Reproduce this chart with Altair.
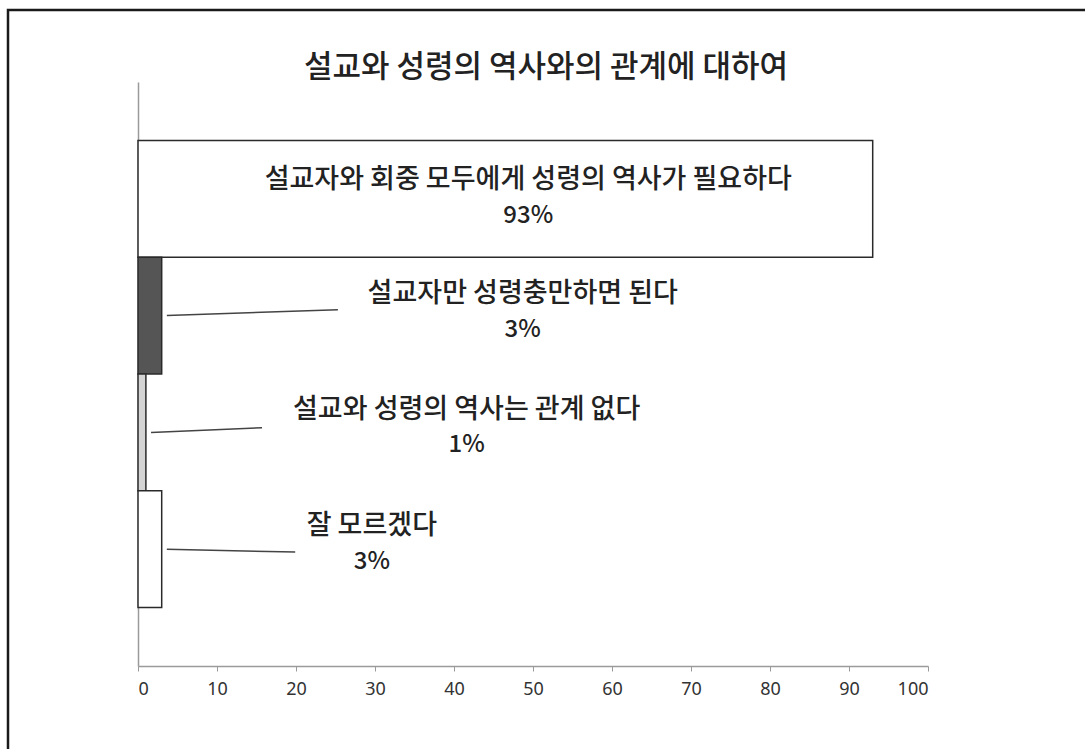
import altair as alt
import pandas as pd

# ---- data ----
title_text = "설교와 성령의 역사와의 관계에 대하여"
categories = [
    "설교자와 회중 모두에게 성령의 역사가 필요하다",
    "설교자만 성령충만하면 된다",
    "설교와 성령의 역사는 관계 없다",
    "잘 모르겠다",
]
values = [93, 3, 1, 3]
x_ticks = [0, 10, 20, 30, 40, 50, 60, 70, 80, 90, 100]

# ---- styling / layout (kept apart from data) ----
fills = ["#ffffff", "#555555", "#d4d4d4", "#ffffff"]
label_x = [49.4, 48.7, 41.6, 29.6]           # label centre along value axis
name_dy = [0.343, 0.318, 0.308, 0.303]       # category line (row units from row top)
pct_dy = [0.645, 0.620, 0.610, 0.607]        # percent line
leader_end_x = [None, 25.3, 15.7, 19.9]
leader_end_dy = [None, -0.05, -0.04, 0.025]
FONT = "Noto Sans CJK KR"

rows = []
for i, (c, v) in enumerate(zip(categories, values)):
    rows.append({
        "cat": c,
        "value": v,
        "pct": f"{v}%",
        "pos0": i,
        "pos1": i + 1,
        "fill": fills[i],
        "lx": label_x[i],
        "ny": i + name_dy[i],
        "py": i + pct_dy[i],
        "has_leader": leader_end_x[i] is not None,
        "sx": v + 0.65,
        "sy": i + 0.5,
        "ex": leader_end_x[i] if leader_end_x[i] is not None else 0,
        "ey": i + 0.5 + (leader_end_dy[i] or 0),
    })
df = pd.DataFrame(rows)

W, H = 790, 584
xscale = alt.Scale(domain=[0, 100], nice=False)
yscale = alt.Scale(domain=[-0.5, 4.5], reverse=True, nice=False, zero=False)

base = alt.Chart(df)

bars = base.mark_rect(stroke="#2a2a2a", strokeWidth=1.5).encode(
    x=alt.X("value:Q", scale=xscale, title=None,
            axis=alt.Axis(values=x_ticks, grid=False, domainColor="#9a9a9a",
                          domainWidth=1.5, tickColor="#9a9a9a", tickSize=5,
                          labelFont="Noto Sans", labelFontSize=18,
                          labelColor="#333333", labelPadding=9)),
    x2=alt.value(0),
    y=alt.Y("pos0:Q", scale=yscale, title=None,
            axis=alt.Axis(labels=False, ticks=False, grid=False,
                          domainColor="#9a9a9a", domainWidth=1.5)),
    y2="pos1:Q",
    fill=alt.Fill("fill:N", scale=None),
)

leaders = base.transform_filter("datum.has_leader").mark_rule(
    color="#444444", strokeWidth=1.5
).encode(
    x=alt.X("sx:Q", scale=xscale),
    x2="ex:Q",
    y=alt.Y("sy:Q", scale=yscale),
    y2="ey:Q",
)

names = base.mark_text(
    font=FONT, fontSize=27, fontWeight=500, color="#222222",
    align="center", baseline="middle"
).encode(
    x=alt.X("lx:Q", scale=xscale),
    y=alt.Y("ny:Q", scale=yscale),
    text="cat:N",
)

pcts = base.mark_text(
    font=FONT, fontSize=24, fontWeight=500, color="#222222",
    align="center", baseline="middle"
).encode(
    x=alt.X("lx:Q", scale=xscale),
    y=alt.Y("py:Q", scale=yscale),
    text="pct:N",
)

title_df = pd.DataFrame({"t": [title_text]})
title = alt.Chart(title_df).mark_text(
    font=FONT, fontSize=31, fontWeight=500, color="#222222",
    align="center", baseline="middle"
).encode(
    x=alt.value(408), y=alt.value(-14), text="t:N"
)

frame = alt.Chart(title_df).mark_rect(
    fill="transparent", stroke="#1a1a1a", strokeWidth=2.5
).encode(
    x=alt.value(-130), x2=alt.value(967), y=alt.value(-72), y2=alt.value(690)
)

chart = alt.layer(frame, bars, leaders, names, pcts, title).properties(
    width=W, height=H,
    autosize=alt.AutoSizeParams(type="none"),
    padding={"left": 138, "top": 82, "right": 157, "bottom": 83},
    background="white",
).configure_view(stroke=None)

chart.save("out.html", embed_options={"renderer": "svg", "actions": False})
